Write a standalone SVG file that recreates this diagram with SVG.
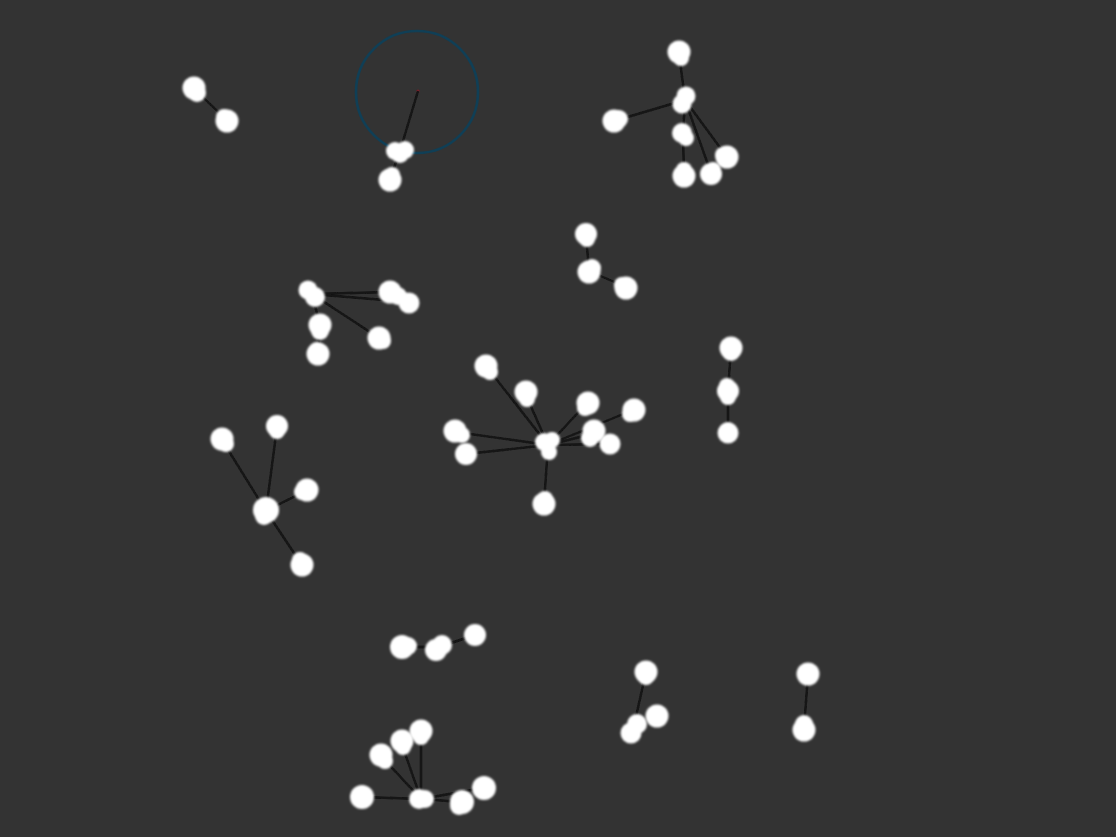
<svg xmlns="http://www.w3.org/2000/svg" width="1116" height="837" viewBox="0 0 1116 837">
<defs>
<filter id="soft" x="-50%" y="-50%" width="200%" height="200%"><feGaussianBlur stdDeviation="1.1"/></filter>
<filter id="softl" x="-10%" y="-10%" width="120%" height="120%"><feGaussianBlur stdDeviation="0.6"/></filter>
</defs>
<style>
.n{fill:#ffffff;filter:url(#soft)}
.e{stroke:#141414;stroke-width:2.4;fill:none}
</style>
<rect width="1116" height="837" fill="#333333"/>
<g id="focus">
<circle cx="417" cy="92" r="61" fill="none" stroke="#103f56" stroke-width="2.6"/>
<circle cx="418" cy="91" r="1.6" fill="#7a1f2a"/>
</g>
<g id="edges" filter="url(#softl)">
<line class="e" x1="194" y1="89" x2="227" y2="120"/>
<line class="e" x1="418" y1="91" x2="400" y2="151"/>
<line class="e" x1="400" y1="151" x2="390" y2="179"/>
<line class="e" x1="679" y1="53" x2="685" y2="100"/>
<line class="e" x1="685" y1="100" x2="614" y2="121"/>
<line class="e" x1="685" y1="100" x2="683" y2="134"/>
<line class="e" x1="683" y1="134" x2="684" y2="176"/>
<line class="e" x1="685" y1="100" x2="711" y2="173"/>
<line class="e" x1="685" y1="100" x2="727" y2="157"/>
<line class="e" x1="586" y1="235" x2="589" y2="271"/>
<line class="e" x1="589" y1="271" x2="626" y2="287"/>
<line class="e" x1="312" y1="294" x2="391" y2="292"/>
<line class="e" x1="312" y1="294" x2="408" y2="302"/>
<line class="e" x1="312" y1="294" x2="379" y2="338"/>
<line class="e" x1="312" y1="294" x2="320" y2="325"/>
<line class="e" x1="320" y1="325" x2="318" y2="354"/>
<line class="e" x1="731" y1="348" x2="728" y2="391"/>
<line class="e" x1="728" y1="391" x2="728" y2="433"/>
<line class="e" x1="548" y1="445" x2="486" y2="366"/>
<line class="e" x1="548" y1="445" x2="525" y2="393"/>
<line class="e" x1="548" y1="445" x2="587" y2="403"/>
<line class="e" x1="548" y1="445" x2="633" y2="410"/>
<line class="e" x1="548" y1="445" x2="592" y2="434"/>
<line class="e" x1="548" y1="445" x2="609" y2="444"/>
<line class="e" x1="548" y1="445" x2="456" y2="432"/>
<line class="e" x1="548" y1="445" x2="466" y2="454"/>
<line class="e" x1="548" y1="445" x2="544" y2="504"/>
<line class="e" x1="266" y1="511" x2="222" y2="440"/>
<line class="e" x1="266" y1="511" x2="277" y2="427"/>
<line class="e" x1="266" y1="511" x2="307" y2="490"/>
<line class="e" x1="266" y1="511" x2="302" y2="565"/>
<line class="e" x1="402" y1="647" x2="439" y2="647"/>
<line class="e" x1="439" y1="647" x2="475" y2="635"/>
<line class="e" x1="646" y1="672" x2="633" y2="730"/>
<line class="e" x1="808" y1="674" x2="804" y2="729"/>
<line class="e" x1="421" y1="799" x2="362" y2="797"/>
<line class="e" x1="421" y1="799" x2="381" y2="756"/>
<line class="e" x1="421" y1="799" x2="401" y2="742"/>
<line class="e" x1="421" y1="799" x2="421" y2="732"/>
<line class="e" x1="421" y1="799" x2="462" y2="802"/>
<line class="e" x1="421" y1="799" x2="483" y2="788"/>
</g>
<g id="nodes">
<g id="a1" class="n"><circle cx="194" cy="88" r="11.5"/><circle cx="197" cy="93" r="9"/></g>
<g id="a2" class="n"><circle cx="227" cy="121" r="11.5"/><circle cx="224" cy="117" r="8"/></g>
<g id="b1" class="n"><circle cx="395" cy="151" r="9"/><circle cx="405" cy="150" r="9"/><circle cx="400" cy="154" r="9"/></g>
<g id="b2" class="n"><circle cx="390" cy="180" r="11.5"/><circle cx="392" cy="175" r="8"/></g>
<g id="c1" class="n"><circle cx="679" cy="52" r="11.5"/><circle cx="681" cy="58" r="8"/></g>
<g id="c2" class="n"><circle cx="686" cy="96" r="9.5"/><circle cx="682" cy="104" r="9.5"/></g>
<g id="c3" class="n"><circle cx="614" cy="121" r="11.5"/><circle cx="619" cy="119" r="9"/></g>
<g id="c4" class="n"><circle cx="682" cy="133" r="10"/><circle cx="686" cy="138" r="8"/></g>
<g id="c5" class="n"><circle cx="684" cy="176" r="11.5"/><circle cx="684" cy="170" r="8"/></g>
<g id="c6" class="n"><circle cx="711" cy="174" r="11"/><circle cx="713" cy="170" r="8"/></g>
<g id="c7" class="n"><circle cx="727" cy="157" r="11.5"/><circle cx="723" cy="155" r="8"/></g>
<g id="d1" class="n"><circle cx="586" cy="234" r="11"/><circle cx="587" cy="239" r="8"/></g>
<g id="d2" class="n"><circle cx="589" cy="272" r="11.5"/><circle cx="592" cy="268" r="9"/></g>
<g id="d3" class="n"><circle cx="626" cy="288" r="11.5"/><circle cx="622" cy="285" r="8"/></g>
<g id="e1" class="n"><circle cx="308" cy="290" r="9.5"/><circle cx="315" cy="297" r="10"/></g>
<g id="e2" class="n"><circle cx="390" cy="292" r="11.5"/><circle cx="398" cy="296" r="9"/></g>
<g id="e3" class="n"><circle cx="409" cy="303" r="10.5"/></g>
<g id="e4" class="n"><circle cx="320" cy="325" r="11.5"/><circle cx="320" cy="331" r="9"/></g>
<g id="e5" class="n"><circle cx="318" cy="354" r="11.5"/><circle cx="317" cy="350" r="8"/></g>
<g id="e6" class="n"><circle cx="379" cy="338" r="11.5"/><circle cx="383" cy="341" r="8"/></g>
<g id="f1" class="n"><circle cx="731" cy="348" r="11.5"/><circle cx="731" cy="352" r="9"/></g>
<g id="f2" class="n"><circle cx="728" cy="391" r="11"/><circle cx="727" cy="386" r="8"/><circle cx="728" cy="397" r="8"/></g>
<g id="f3" class="n"><circle cx="728" cy="433" r="10.5"/><circle cx="728" cy="431" r="9"/></g>
<g id="g0" class="n"><circle cx="544" cy="442" r="9"/><circle cx="552" cy="440" r="8"/><circle cx="549" cy="452" r="8"/></g>
<g id="g1" class="n"><circle cx="486" cy="366" r="11.5"/><circle cx="490" cy="372" r="8"/></g>
<g id="g2" class="n"><circle cx="526" cy="392" r="11.5"/><circle cx="527" cy="399" r="8"/></g>
<g id="g3" class="n"><circle cx="588" cy="403" r="11.5"/><circle cx="585" cy="408" r="8"/></g>
<g id="g4" class="n"><circle cx="634" cy="410" r="11.5"/><circle cx="630" cy="414" r="8"/></g>
<g id="g5" class="n"><circle cx="594" cy="431" r="11.5"/><circle cx="590" cy="438" r="9"/></g>
<g id="g6" class="n"><circle cx="610" cy="444" r="10.5"/></g>
<g id="g7" class="n"><circle cx="455" cy="431" r="11.5"/><circle cx="462" cy="435" r="8"/></g>
<g id="g8" class="n"><circle cx="466" cy="454" r="11"/></g>
<g id="g9" class="n"><circle cx="544" cy="504" r="11.5"/><circle cx="545" cy="499" r="8"/></g>
<g id="h0" class="n"><circle cx="266" cy="510" r="13"/><circle cx="264" cy="516" r="9"/></g>
<g id="h1" class="n"><circle cx="222" cy="439" r="11.5"/><circle cx="226" cy="444" r="8"/></g>
<g id="h2" class="n"><circle cx="277" cy="426" r="11"/><circle cx="277" cy="431" r="8"/></g>
<g id="h3" class="n"><circle cx="307" cy="490" r="11.5"/><circle cx="302" cy="492" r="8"/></g>
<g id="h4" class="n"><circle cx="302" cy="565" r="11.5"/><circle cx="300" cy="560" r="8"/></g>
<g id="i1" class="n"><circle cx="402" cy="647" r="12"/><circle cx="408" cy="646" r="9"/></g>
<g id="i2" class="n"><circle cx="436" cy="650" r="11"/><circle cx="442" cy="645" r="10"/></g>
<g id="i3" class="n"><circle cx="475" cy="635" r="11"/></g>
<g id="j1" class="n"><circle cx="646" cy="672" r="11.5"/><circle cx="646" cy="677" r="8"/></g>
<g id="j2" class="n"><circle cx="631" cy="733" r="10.5"/><circle cx="637" cy="724" r="10"/></g>
<g id="j3" class="n"><circle cx="657" cy="716" r="11.5"/></g>
<g id="k1" class="n"><circle cx="808" cy="674" r="11.5"/></g>
<g id="k2" class="n"><circle cx="804" cy="730" r="11.5"/><circle cx="804" cy="724" r="9"/></g>
<g id="l0" class="n"><circle cx="419" cy="799" r="10"/><circle cx="425" cy="799" r="9"/></g>
<g id="l1" class="n"><circle cx="362" cy="797" r="12"/></g>
<g id="l2" class="n"><circle cx="381" cy="755" r="11.5"/><circle cx="385" cy="761" r="8"/></g>
<g id="l3" class="n"><circle cx="402" cy="741" r="11.5"/><circle cx="403" cy="747" r="8"/></g>
<g id="l4" class="n"><circle cx="421" cy="731" r="11.5"/><circle cx="421" cy="737" r="8"/></g>
<g id="l5" class="n"><circle cx="462" cy="802" r="12"/><circle cx="459" cy="806" r="9"/></g>
<g id="l6" class="n"><circle cx="484" cy="788" r="12"/></g>
</g>
</svg>
